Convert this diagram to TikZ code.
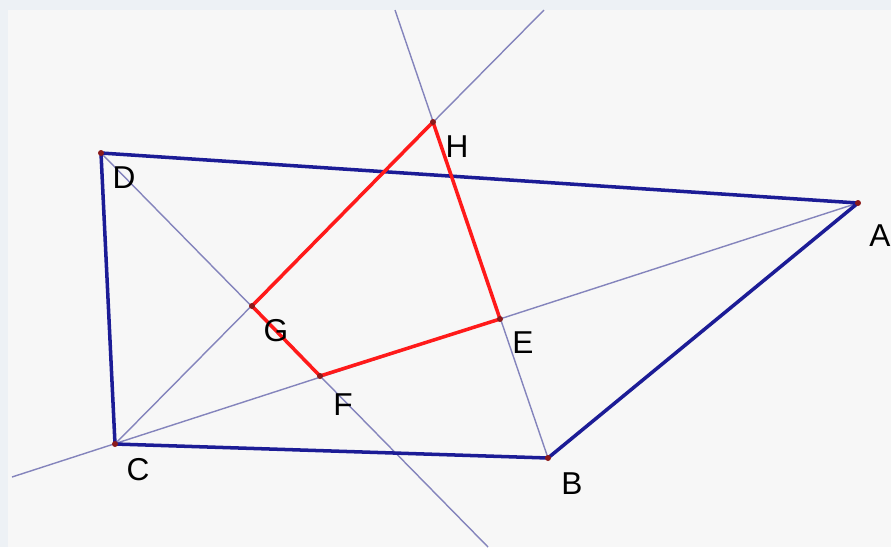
\documentclass[tikz,border=0pt]{standalone}
\usepackage{fontspec}
\setmainfont{Liberation Sans}

\definecolor{quadblue}{HTML}{1C1C96}
\definecolor{bisline}{HTML}{8484BC}
\definecolor{redquad}{HTML}{FF1A1A}
\definecolor{ptdot}{HTML}{8B1A1A}
\definecolor{paper}{HTML}{F7F7F7}
\definecolor{paperedge}{HTML}{EDF1F5}

\tikzset{
    side/.style={line width=2pt, quadblue, line join=round},
    bisector/.style={line width=0.8pt, bisline},
    inner/.style={line width=2pt, redquad, line join=round},
    ptlabel/.style={font=\fontsize{18}{20}\selectfont, inner sep=0pt, text=black}
}

\begin{document}
\begin{tikzpicture}[x=0.2mm, y=-0.2mm]

    % === BACKGROUND ===
    \fill[paperedge] (0,0) rectangle (891,547);
    \fill[paper] (8,10) rectangle (891,547);
    \useasboundingbox (0,0) rectangle (891,547);

    % === POINTS ===
    \coordinate (A) at (858,203);
    \coordinate (B) at (548,458);
    \coordinate (C) at (115,444);
    \coordinate (D) at (101,153);
    \coordinate (E) at (500,319);
    \coordinate (F) at (320,376);
    \coordinate (G) at (252,306);
    \coordinate (H) at (433,122);

    % free ends of the bisectors
    \coordinate (endA) at (12,477);
    \coordinate (endB) at (395,10);
    \coordinate (endC) at (544,10);
    \coordinate (endD) at (488,547);

    % === ANGLE BISECTORS ===
    \draw[bisector] (A) -- (endA);
    \draw[bisector] (B) -- (endB);
    \draw[bisector] (C) -- (endC);
    \draw[bisector] (D) -- (endD);

    % === QUADRILATERAL ABCD ===
    \draw[side] (A) -- (B) -- (C) -- (D) -- cycle;

    % === QUADRILATERAL EFGH ===
    \draw[inner] (E) -- (F) -- (G) -- (H) -- cycle;

    % === DOTS ===
    \foreach \p in {A,B,C,D,E,F,G,H}
        \fill[ptdot] (\p) circle (3);

    % === LABELS ===
    \node[ptlabel] (lA) at ([shift={(22,33)}]A) {A};
    \node[ptlabel] (lB) at ([shift={(24,26)}]B) {B};
    \node[ptlabel] (lC) at ([shift={(23,26)}]C) {C};
    \node[ptlabel] (lD) at ([shift={(23,25)}]D) {D};
    \node[ptlabel] (lE) at ([shift={(23,24)}]E) {E};
    \node[ptlabel] (lF) at ([shift={(23,29)}]F) {F};
    \node[ptlabel] (lG) at ([shift={(24,25)}]G) {G};
    \node[ptlabel] (lH) at ([shift={(24,25)}]H) {H};

\end{tikzpicture}
\end{document}
